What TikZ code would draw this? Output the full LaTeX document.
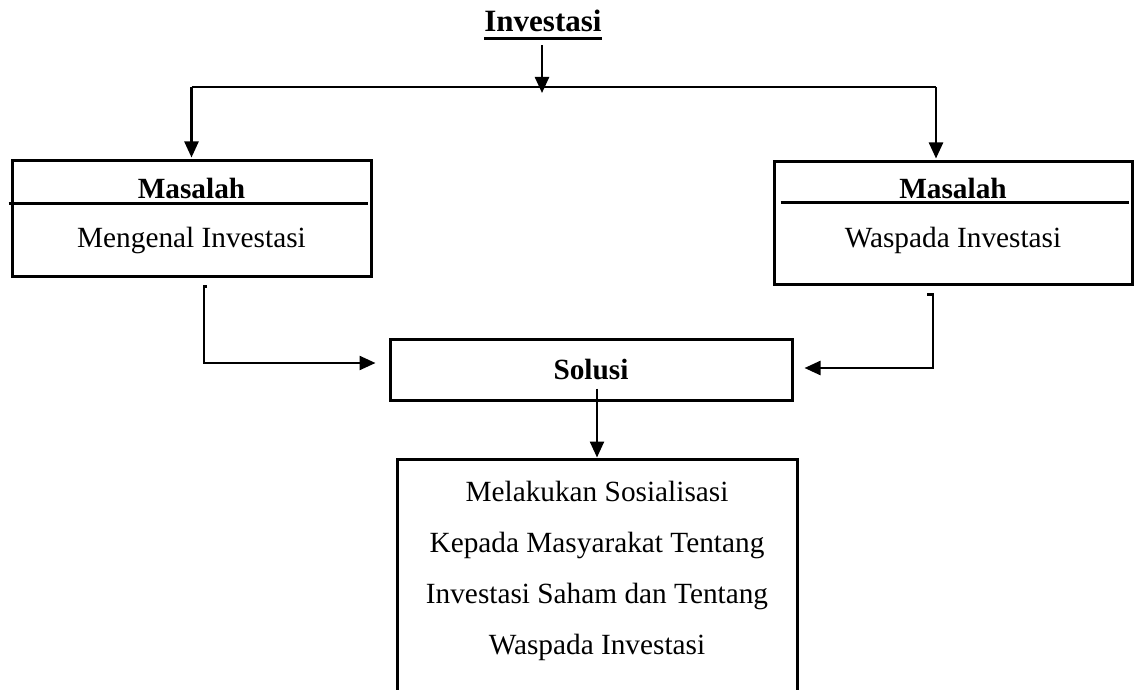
\documentclass[tikz,border=0pt]{standalone}
\usepackage{fontspec}
\setmainfont{Liberation Serif}
\usetikzlibrary{arrows.meta,positioning,calc}
\newcommand{\garisbawah}[1]{\leavevmode\setbox0=\hbox{#1}\copy0\kern-\wd0\rule[-8pt]{\wd0}{2.6pt}}
\tikzset{
  masalahbox/.style={rectangle,draw=black,line width=3pt,align=center,inner sep=0pt,font=\fontsize{29.3}{49}\selectfont},
  solusibox/.style={rectangle,draw=black,line width=3pt,align=center,inner sep=0pt,minimum width=402pt,minimum height=61pt,font=\bfseries\fontsize{29.3}{35}\selectfont},
  hasilbox/.style={rectangle,draw=black,line width=3pt,align=center,inner xsep=0pt,inner ysep=22pt,minimum width=400pt,font=\fontsize{29.3}{51}\selectfont},
  arrow/.style={-{Triangle[length=16pt,width=14pt]},line width=2.4pt,black},
  divider/.style={line width=2.2pt,black}
}

\begin{document}
\begin{tikzpicture}[x=1pt,y=-1pt]
    \useasboundingbox (0,0) rectangle (1141,690);
    \clip (0,0) rectangle (1141,690);

    \node[anchor=base,inner sep=5pt,font=\bfseries\fontsize{31}{37}\selectfont] (title) at (543,32) {\garisbawah{Investasi}};

    \node[masalahbox,minimum width=359pt,minimum height=115pt] (masA) at (191.5,218.5) {\textbf{Masalah}\\Mengenal Investasi\rule[-11pt]{0pt}{11pt}};
    \node[masalahbox,minimum width=358pt,minimum height=122pt] (masB) at (953,223) {\textbf{Masalah}\\Waspada Investasi\rule[-21pt]{0pt}{21pt}};
    \draw[divider] ($(masA.north west)+(-2,44)$) -- ($(masA.north east)+(-5,44)$);
    \draw[divider] ($(masB.north west)+(8,42)$) -- ($(masB.north east)+(-5,42)$);

    \node[solusibox] (sol) at (591,369.5) {Solusi};
    \node[hasilbox,below=56pt of sol,xshift=6pt] (hasil) {Melakukan Sosialisasi\\Kepada Masyarakat Tentang\\Investasi Saham dan Tentang\\Waspada Investasi\rule[-60pt]{0pt}{60pt}};

    % cabang atas
    \coordinate (cabang) at (542,87);
    \coordinate (kiri) at (191.5,87);
    \coordinate (kanan) at (936,87);
    \draw[arrow,shorten >=-6pt] (title.south -| cabang) -- (cabang);
    \draw[divider] (kiri) -- (kanan);
    \draw[arrow,shorten >=2pt] (kiri) -- (masA.north);
    \draw[arrow,shorten >=2pt] (kanan) -- (kanan |- masB.north);

    % ke solusi
    \draw[arrow] ($(masA.south)+(15.5,9)$) -- ++(-3,0) |- ($(sol.west)+(-13,-6.5)$);
    \draw[arrow] ($(masB.south)+(-26,9)$) -- ++(6,0) |- ($(sol.east)+(11,-1.5)$);
    \draw[arrow] ($(sol.south)+(6,-13)$) -- (hasil.north);
\end{tikzpicture}
\end{document}
